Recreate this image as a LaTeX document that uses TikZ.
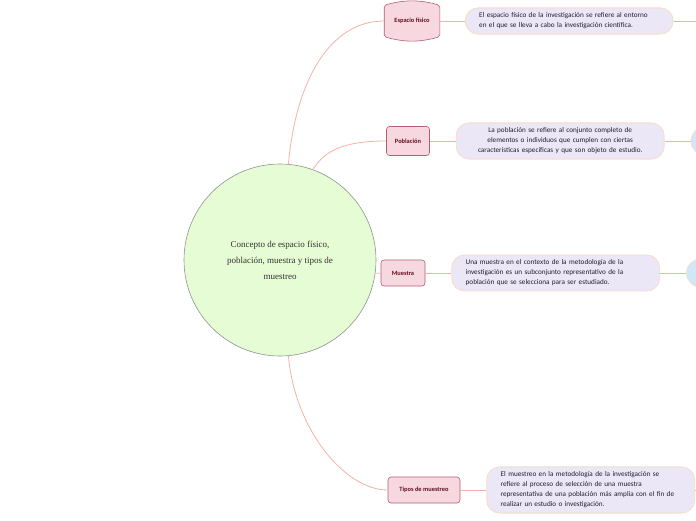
\documentclass[tikz,border=0pt]{standalone}
\usepackage{fontspec}
\setmainfont{Liberation Serif}
\newfontfamily\notefont{Carlito}
\usetikzlibrary{positioning,backgrounds}
\definecolor{IdeaGreen}{RGB}{230,252,212}
\definecolor{IdeaRim}{RGB}{140,150,140}
\definecolor{IdeaText}{RGB}{50,50,50}
\definecolor{BranchPink}{RGB}{248,216,224}
\definecolor{BranchRim}{RGB}{176,96,112}
\definecolor{BranchText}{RGB}{95,15,30}
\definecolor{NoteLilac}{RGB}{235,231,246}
\definecolor{NoteRim}{RGB}{246,222,196}
\definecolor{NoteText}{RGB}{35,30,45}
\definecolor{LinkPink}{RGB}{247,176,168}
\definecolor{SubBlue}{RGB}{206,232,250}

\begin{document}
\begin{tikzpicture}[x=1pt,y=1pt,
  link/.style={LinkPink,line width=0.8pt},
  idea/.style={circle,fill=IdeaGreen,draw=IdeaRim,line width=0.6pt,minimum size=192pt,align=center,
    text=IdeaText,font=\fontsize{9}{16}\selectfont},
  branch/.style={fill=BranchPink,draw=BranchRim,line width=0.6pt,rounded corners=3pt,inner sep=0pt,
    text=BranchText,font=\notefont\fontsize{6.4}{7}\selectfont\bfseries},
  note/.style={fill=NoteLilac,draw=NoteRim,line width=0.8pt,rounded corners=13pt,text width=180pt,
    inner xsep=14pt,inner ysep=5pt,text=NoteText,font=\notefont\fontsize{7.2}{10}\selectfont},
  sub/.style={circle,fill=SubBlue,draw=NoteRim,line width=0.8pt,minimum size=28pt,inner sep=0pt}]
  \useasboundingbox (0,0) rectangle (696,-520);

  \node[idea] (center) at (280,-260) {Concepto de espacio físico,\\ población, muestra y tipos de\\ muestreo};

  % main topics
  \node[branch,draw=none,fill=none,minimum width=55pt,minimum height=31pt] (espacio) at (412,-21) {Espacio físico};
  \begin{scope}[on background layer]
    \filldraw[fill=BranchPink,draw=BranchRim,line width=0.6pt,rounded corners=2pt]
      (espacio.south west) -- (espacio.north west) to[bend left=15] (espacio.north east)
      -- (espacio.south east) to[bend left=15] (espacio.south west) -- cycle;
  \end{scope}
  \node[branch,minimum width=43pt,minimum height=29pt] (poblacion) at (408,-141) {Población};
  \node[branch,minimum width=44pt,minimum height=26pt] (muestra) at (403,-273) {Muestra};
  \node[branch,minimum width=72pt,minimum height=26pt] (tipos) at (424,-490) {Tipos de muestreo};

  % notes
  \node[note,align=left,right=25pt of espacio] (notaEspacio)
    {El espacio físico de la investigación se refiere al entorno\\ en el que se lleva a cabo la investigación científica.};
  \node[note,align=center,right=26pt of poblacion] (notaPoblacion)
    {La población se refiere al conjunto completo de\\ elementos o individuos que cumplen con ciertas\\ características específicas y que son objeto de estudio.};
  \node[note,align=left,right=26pt of muestra] (notaMuestra)
    {Una muestra en el contexto de la metodología de la\\ investigación es un subconjunto representativo de la\\ población que se selecciona para ser estudiado.};
  \node[note,align=left,right=26pt of tipos] (notaTipos)
    {El muestreo en la metodología de la investigación se\\ refiere al proceso de selección de una muestra\\ representativa de una población más amplia con el fin de\\ realizar un estudio o investigación.};

  \node[sub,right=26pt of notaPoblacion] (subPoblacion) {};
  \node[sub,right=26pt of notaMuestra] (subMuestra) {};
  \coordinate (finEspacio) at ([xshift=30pt]notaEspacio.east);
  \coordinate (finTipos) at ([xshift=30pt]notaTipos.east);

  % links
  \draw[link] (center.85) .. controls (296,-80) and (330,-21) .. (espacio.west);
  \draw[link] (center.70) .. controls (325,-150) and (345,-141) .. (poblacion.west);
  \draw[link] (center.-8) -- (muestra.west);
  \draw[link] (center.-85) .. controls (295,-430) and (345,-490) .. (tipos.west);
  \draw[link] (espacio) -- (notaEspacio);
  \draw[link] (poblacion) -- (notaPoblacion);
  \draw[link] (muestra) -- (notaMuestra);
  \draw[link] (tipos) -- (notaTipos);
  \draw[link] (notaEspacio) -- (finEspacio);
  \draw[link] (notaPoblacion) -- (subPoblacion);
  \draw[link] (notaMuestra) -- (subMuestra);
  \draw[link] (notaTipos) -- (finTipos);
\end{tikzpicture}
\end{document}
